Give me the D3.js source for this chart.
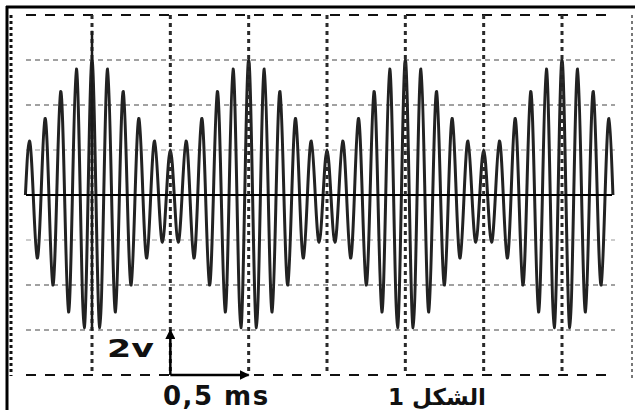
<!DOCTYPE html>
<html lang="ar">
<head>
    <meta charset="UTF-8">
    <title>الشكل 1</title>
    <style>
        body { margin: 0; background: #fff; }
        svg { display: block; }
        .lbl { font-family: "DejaVu Sans", sans-serif; fill: #111; }
    </style>
</head>
<body>
    <svg id="chart" width="635" height="410"></svg>

    <script src="https://d3js.org/d3.v7.min.js"></script>
    <script>
        // graticule (volts / ms)
        const gridVolts = [8, 6, 4, 2, -2, -4, -6, -8];
        const gridTimes = [0, 0.5, 1, 1.5, 2, 2.5, 3];

        // extrema of the trace (ms, V)
        const peakTimes = [
            -0.40, -0.35, -0.30, -0.25, -0.20, -0.15, -0.10, -0.05,
            0.00, 0.05, 0.10, 0.15, 0.20, 0.25, 0.30, 0.35, 0.40, 0.45,
            0.50, 0.55, 0.60, 0.65, 0.70, 0.75, 0.80, 0.85, 0.90, 0.95,
            1.00, 1.05, 1.10, 1.15, 1.20, 1.25, 1.30, 1.35, 1.40, 1.45,
            1.50, 1.55, 1.60, 1.65, 1.70, 1.75, 1.80, 1.85, 1.90, 1.95,
            2.00, 2.05, 2.10, 2.15, 2.20, 2.25, 2.30, 2.35, 2.40, 2.45,
            2.50, 2.55, 2.60, 2.65, 2.70, 2.75, 2.80, 2.85, 2.90, 2.95,
            3.00, 3.05, 3.10, 3.15, 3.20, 3.25, 3.30
        ];
        const peakVolts = [
            2.4, -2.8, 3.4, -4.0, 4.6, -5.2, 5.6, -5.9,
            6.0, -5.9, 5.6, -5.2, 4.6, -4.0, 3.4, -2.8, 2.4, -2.1,
            2.0, -2.1, 2.4, -2.8, 3.4, -4.0, 4.6, -5.2, 5.6, -5.9,
            6.0, -5.9, 5.6, -5.2, 4.6, -4.0, 3.4, -2.8, 2.4, -2.1,
            2.0, -2.1, 2.4, -2.8, 3.4, -4.0, 4.6, -5.2, 5.6, -5.9,
            6.0, -5.9, 5.6, -5.2, 4.6, -4.0, 3.4, -2.8, 2.4, -2.1,
            2.0, -2.1, 2.4, -2.8, 3.4, -4.0, 4.6, -5.2, 5.6, -5.9,
            6.0, -5.9, 5.6, -5.2, 4.6, -4.0, 3.4
        ];
        const traceStart = -0.425, traceEnd = 3.325;

        const svg = d3.select("#chart");

        const x = d3.scaleLinear().domain([0, 3]).range([92, 562]);
        const y = d3.scaleLinear().domain([-8, 8]).range([375, 15]);

        const xl = 26, xr = 615;

        // horizontal dashed graticule
        svg.selectAll(".hgrid")
            .data(gridVolts)
            .enter().append("line")
            .attr("class", "hgrid")
            .attr("x1", xl).attr("x2", xr)
            .attr("y1", d => y(d)).attr("y2", d => y(d))
            .attr("stroke", d => Math.abs(d) === 8 ? "#111" : (Math.abs(d) === 2 ? "#999" : "#444"))
            .attr("stroke-width", d => Math.abs(d) === 8 ? 2 : 1.2)
            .attr("stroke-dasharray", d => Math.abs(d) === 8 ? "10,9" : "5,4");

        // signal: extrema joined through zero crossings
        const pts = [{ t: traceStart, v: 0 }];
        peakTimes.forEach((t, i) => {
            pts.push({ t: t, v: peakVolts[i] });
            const next = i < peakTimes.length - 1 ? (t + peakTimes[i + 1]) / 2 : traceEnd;
            pts.push({ t: next, v: 0 });
        });

        const line = d3.line()
            .x(d => x(d.t))
            .y(d => y(d.v))
            .curve(d3.curveNatural);

        svg.append("path")
            .datum(pts)
            .attr("d", line)
            .attr("fill", "none")
            .attr("stroke", "#222")
            .attr("stroke-width", 3)
            .attr("stroke-linejoin", "round");

        // zero line
        svg.append("line")
            .attr("x1", xl).attr("x2", 612)
            .attr("y1", y(0)).attr("y2", y(0))
            .attr("stroke", "#000").attr("stroke-width", 2);

        // vertical dotted graticule on top of trace
        svg.selectAll(".vgridw")
            .data(gridTimes)
            .enter().append("line")
            .attr("x1", d => x(d)).attr("x2", d => x(d))
            .attr("y1", y(8)).attr("y2", y(-8))
            .attr("stroke", "#fff").attr("stroke-width", 1.2)
            .attr("stroke-dasharray", "3,5");
        svg.selectAll(".vgrid")
            .data(gridTimes)
            .enter().append("line")
            .attr("class", "vgrid")
            .attr("x1", d => x(d)).attr("x2", d => x(d))
            .attr("y1", y(8)).attr("y2", y(-8))
            .attr("stroke", "#2a2a2a").attr("stroke-width", 3)
            .attr("stroke-dasharray", "4,4");

        // solid marker at t = 0
        svg.append("line")
            .attr("x1", x(0)).attr("x2", x(0))
            .attr("y1", y(7.3)).attr("y2", y(-6))
            .attr("stroke", "#1a1a1a").attr("stroke-width", 2.5);

        // screen edges
        svg.append("line")
            .attr("x1", 11).attr("x2", 11).attr("y1", 15).attr("y2", 376)
            .attr("stroke", "#111").attr("stroke-width", 3).attr("stroke-dasharray", "3,3");
        svg.append("line")
            .attr("x1", 632).attr("x2", 632).attr("y1", 15).attr("y2", 378)
            .attr("stroke", "#777").attr("stroke-width", 2).attr("stroke-dasharray", "3,3");

        // outer frame
        svg.append("line")
            .attr("x1", 6).attr("x2", 635).attr("y1", 7).attr("y2", 7)
            .attr("stroke", "#000").attr("stroke-width", 3);
        svg.append("line")
            .attr("x1", 7).attr("x2", 7).attr("y1", 6).attr("y2", 410)
            .attr("stroke", "#000").attr("stroke-width", 3);

        // scale arrows: 2 V up, 0.5 ms right
        const defs = svg.append("defs");
        defs.append("marker")
            .attr("id", "arrow")
            .attr("viewBox", "0 0 10 10")
            .attr("refX", 9).attr("refY", 5)
            .attr("markerWidth", 4).attr("markerHeight", 4)
            .attr("orient", "auto")
            .append("path")
            .attr("d", "M0,0 L10,5 L0,10 Z")
            .attr("fill", "#000");

        svg.append("line")
            .attr("x1", x(0.5)).attr("x2", x(0.5))
            .attr("y1", y(-8)).attr("y2", y(-6))
            .attr("stroke", "#000").attr("stroke-width", 2.5)
            .attr("marker-end", "url(#arrow)");
        svg.append("line")
            .attr("x1", x(0.5)).attr("x2", x(1))
            .attr("y1", y(-8)).attr("y2", y(-8))
            .attr("stroke", "#000").attr("stroke-width", 2.5)
            .attr("marker-end", "url(#arrow)");

        // "2v" is drawn wide in the original
        svg.append("text")
            .attr("class", "lbl")
            .attr("transform", "translate(107,357) scale(1.45,1)")
            .attr("font-size", 24)
            .attr("font-weight", "bold")
            .text("2v");

        svg.append("text")
            .attr("class", "lbl")
            .attr("x", 163).attr("y", 405)
            .attr("font-size", 26)
            .attr("font-weight", "bold")
            .attr("letter-spacing", 1.5)
            .text("0,5 ms");

        svg.append("text")
            .attr("class", "lbl")
            .attr("x", 437).attr("y", 405)
            .attr("font-size", 23)
            .attr("font-weight", "bold")
            .attr("text-anchor", "middle")
            .style("direction", "rtl")
            .style("unicode-bidi", "embed")
            .text("الشكل 1");
    </script>
</body>
</html>
